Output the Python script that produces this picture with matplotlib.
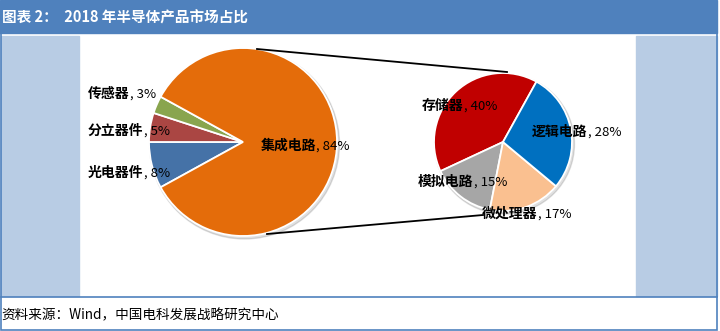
import matplotlib
matplotlib.use("Agg")
import matplotlib.pyplot as plt
from matplotlib.patches import Rectangle, Circle

plt.rcParams['font.family'] = ['Noto Sans CJK SC', 'DejaVu Sans']

W, H = 720, 331

# main pie
main_names = ["光电器件", "分立器件", "传感器", "集成电路"]
main_values = [8, 5, 3, 84]
main_colors = ["#4572A7", "#AA4643", "#89A54E", "#E46C0A"]

# breakdown of 集成电路
sub_names = ["存储器", "模拟电路", "微处理器", "逻辑电路"]
sub_values = [40, 15, 17, 28]
sub_colors = ["#C00000", "#A6A6A6", "#FAC090", "#0070C0"]

title = "图表 2：  2018 年半导体产品市场占比"
source = "资料来源：Wind，中国电科发展战略研究中心"

# label anchor spots (image pixels, left edge / vertical centre)
main_label_pos = [(88, 173), (88, 131), (88, 94), (261, 146)]
sub_label_pos = [(422, 106), (418, 182), (482, 214), (532, 132)]


def fy(y):
    return H - y


fig = plt.figure(figsize=(W / 100, H / 100), dpi=100)
ax = fig.add_axes([0, 0, 1, 1])

blue = "#4F81BD"
panel = "#B8CCE4"

# frame pieces
ax.add_patch(Rectangle((0, fy(33)), 717, 33, color=blue, zorder=0))
ax.add_patch(Rectangle((0.5, fy(296)), 78.5, 260, color=panel, zorder=0))
ax.add_patch(Rectangle((636, fy(296)), 80.5, 260, color=panel, zorder=0))
ax.add_patch(Rectangle((0.5, fy(330)), 716, 297, fill=False, edgecolor=blue, lw=1.2, zorder=1))
ax.plot([0.5, 716.5], [fy(297), fy(297)], color=blue, lw=1.2, zorder=1)

ax.text(2, fy(17), title, color="white", fontsize=10.5, fontweight="bold", va="center", ha="left")
ax.text(1, fy(315), source, color="black", fontsize=9.8, va="center", ha="left")

# pies
c1, r1 = (243, fy(142)), 94
c2, r2 = (503, fy(142)), 69

for c, r in [(c1, r1), (c2, r2)]:
    ax.add_patch(Circle((c[0] + 1.5, c[1] - 2), r + 1, color="#000000", alpha=0.12, zorder=1.5))

wedge_kw = dict(edgecolor="white", linewidth=1.3)
w1, _ = ax.pie(main_values, colors=main_colors, center=c1, radius=r1,
               startangle=180 + 360 * main_values[0] / 100, counterclock=False,
               wedgeprops=wedge_kw)
w2, _ = ax.pie(sub_values, colors=sub_colors, center=c2, radius=r2,
               startangle=61, counterclock=True, wedgeprops=wedge_kw)
for w in list(w1) + list(w2):
    w.set_zorder(2)

# connector lines
ax.plot([257, 507], [fy(49), fy(72)], color="black", lw=1.3, zorder=3)
ax.plot([267, 483], [fy(234), fy(215)], color="black", lw=1.3, zorder=3)

ax.set_xlim(0, W)
ax.set_ylim(0, H)
ax.set_aspect("auto")
ax.axis("off")

fig.canvas.draw()
renderer = fig.canvas.get_renderer()


def label(name, value, pos):
    t = ax.text(pos[0], fy(pos[1]), name, fontsize=10, fontweight="bold",
                va="center", ha="left", zorder=4)
    bb = t.get_window_extent(renderer)
    ax.annotate(", %d%%" % value, xy=(bb.x1, fy(pos[1])), xycoords="figure pixels",
                fontsize=9.5, va="center", ha="left", zorder=4)


for n, v, p in zip(main_names, main_values, main_label_pos):
    label(n, v, p)
for n, v, p in zip(sub_names, sub_values, sub_label_pos):
    label(n, v, p)

fig.savefig("out.png", dpi=100)
